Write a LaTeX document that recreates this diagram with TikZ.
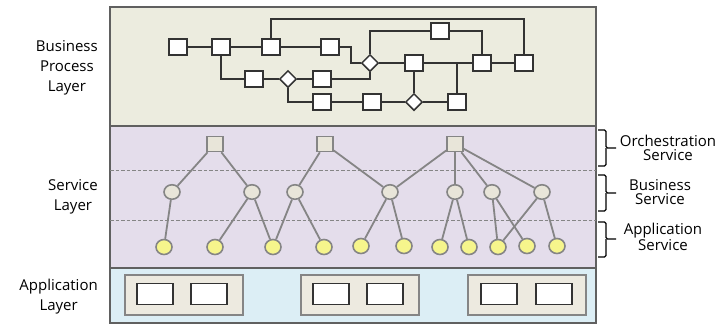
\documentclass[tikz,border=0pt]{standalone}
\usepackage{fontspec}
\setmainfont{Open Sans}
\usetikzlibrary{shapes.geometric,calc}
\definecolor{bpbg}{HTML}{ECECDF}
\definecolor{svbg}{HTML}{E4DDEB}
\definecolor{apbg}{HTML}{DCEEF5}
\definecolor{framec}{HTML}{606060}
\definecolor{bpline}{HTML}{333333}
\definecolor{svline}{HTML}{858585}
\definecolor{graynode}{HTML}{E8E5D9}
\definecolor{yellownode}{HTML}{F6F58C}
\definecolor{contfill}{HTML}{EDEAE0}
\begin{document}
\begin{tikzpicture}[x=1pt,y=-1pt,
  layer/.style={draw=framec,line width=1.3pt},
  bpbox/.style={draw=bpline,fill=white,line width=1.5pt,rectangle,minimum width=18pt,minimum height=16pt,inner sep=0pt},
  bpdia/.style={draw=bpline,fill=white,line width=1.5pt,diamond,minimum width=17pt,minimum height=17pt,inner sep=0pt},
  bpedge/.style={draw=bpline,line width=1.5pt},
  orch/.style={draw=svline,fill=graynode,line width=1.6pt,rectangle,minimum width=16pt,minimum height=15pt,inner sep=0pt},
  bsvc/.style={draw=svline,fill=graynode,line width=1.6pt,ellipse,minimum width=16pt,minimum height=14.5pt,inner sep=0pt},
  asvc/.style={draw=svline,fill=yellownode,line width=1.6pt,ellipse,minimum width=16pt,minimum height=15pt,inner sep=0pt},
  svedge/.style={draw=svline,line width=1.8pt},
  sep/.style={draw=svline,line width=1pt,dash pattern=on 3.5pt off 2pt},
  cont/.style={draw=svline,fill=contfill,line width=1.4pt,rectangle,inner sep=0pt},
  appbox/.style={draw=bpline,fill=white,line width=1.5pt,rectangle,minimum width=36pt,minimum height=21pt,inner sep=0pt},
  lbl/.style={font=\fontsize{15}{20}\selectfont,align=center,inner sep=0pt,text=black},
  rlbl/.style={font=\fontsize{15}{14}\selectfont,align=center,inner sep=0pt,text=black},
  brace/.style={draw=black,line width=1.3pt,rounded corners=1.5pt}
]
\useasboundingbox (0,0) rectangle (721,325);
\fill[white] (0,0) rectangle (721,325);
% layers
\draw[layer,fill=bpbg] (110,7) rectangle (596,126);
\draw[layer,fill=svbg] (110,126) rectangle (596,268);
\draw[layer,fill=apbg] (110,268) rectangle (596,323);
\coordinate (sl1) at (110,170); \coordinate (sr1) at (596,170);
\coordinate (sl2) at (110,220); \coordinate (sr2) at (596,220);
\draw[sep] (sl1) -- (sr1);
\draw[sep] (sl2) -- (sr2);

% left labels
\node[lbl,anchor=east] (lbp) at (98,68) {Business\\Process\\Layer};
\node[lbl,anchor=east] (lsv) at (98,197) {Service\\Layer};
\node[lbl,anchor=east] (lap) at (98,297) {Application\\Layer};

% business process nodes
\node[bpbox] (b1) at (178,47) {};
\node[bpbox] (b2) at (221,47) {};
\node[bpbox] (b3) at (271,47) {};
\node[bpbox] (b4) at (330,47) {};
\node[bpdia] (d1) at (370,63) {};
\node[bpbox] (t1) at (440,31) {};
\node[bpbox] (m1) at (414,63) {};
\node[bpbox] (m2) at (482,63) {};
\node[bpbox] (m3) at (524,63) {};
\node[bpbox] (r1) at (254,79) {};
\node[bpdia] (d2) at (288,79) {};
\node[bpbox] (r2) at (322,79) {};
\node[bpbox] (s1) at (322,102) {};
\node[bpbox] (s2) at (372,102) {};
\node[bpdia] (d3) at (414,102) {};
\node[bpbox] (s3) at (457,102) {};
\coordinate (topy) at (0,19);
% business process connectors
\draw[bpedge] (b1) -- (b2);
\draw[bpedge] (b2) -- (b3);
\draw[bpedge] (b3) -- (b4);
\draw[bpedge] (b3.north) |- (topy -| m3) -- (m3.north);
\draw[bpedge] (d1.north) |- (t1.west);
\draw[bpedge] (t1.east) -| (m2.north);
\draw[bpedge] (b4.east) -- ++(11,0) |- (d1.west);
\draw[bpedge] (d1.east) -- (m1.west);
\draw[bpedge] (m1.east) -- (m2.west);
\draw[bpedge] (m2.east) -- (m3.west);
\draw[bpedge] (m1 -| s3) -- (s3.north);
\draw[bpedge] (b2.south) |- (r1.west);
\draw[bpedge] (r1) -- (d2);
\draw[bpedge] (d2) -- (r2);
\draw[bpedge] (r2.east) -| (d1.south);
\draw[bpedge] (d2.south) |- (s1.west);
\draw[bpedge] (s1) -- (s2);
\draw[bpedge] (s2) -- (d3);
\draw[bpedge] (d3) -- (s3);
\draw[bpedge] (m1.south) -- (d3.north);

% service layer nodes
\node[orch] (o1) at (215,144) {};
\node[orch] (o2) at (325,144) {};
\node[orch] (o3) at (455,144) {};
\node[bsvc] (c1) at (172,192) {};
\node[bsvc] (c2) at (252,192) {};
\node[bsvc] (c3) at (295,192) {};
\node[bsvc] (c4) at (390,192) {};
\node[bsvc] (c5) at (455,192) {};
\node[bsvc] (c6) at (492,192) {};
\node[bsvc] (c7) at (542,192) {};
\node[asvc] (a1) at (164,247) {};
\node[asvc] (a2) at (215,247) {};
\node[asvc] (a3) at (273,247) {};
\node[asvc] (a4) at (324,247) {};
\node[asvc] (a5) at (361,246) {};
\node[asvc] (a6) at (404,246) {};
\node[asvc] (a7) at (440,247) {};
\node[asvc] (a8) at (469,247) {};
\node[asvc] (a9) at (498,247) {};
\node[asvc] (a10) at (527,246) {};
\node[asvc] (a11) at (557,246) {};
% service connectors
\foreach \u/\v in {o1/c1,o1/c2,o2/c3,o2/c4,o3/c4,o3/c5,o3/c6,o3/c7,
  c1/a1,c2/a2,c2/a3,c3/a3,c3/a4,c4/a5,c4/a6,c5/a7,c5/a8,c6/a9,c6/a10,c7/a9,c7/a11}
  \draw[svedge] (\u) -- (\v);

% application layer
\node[cont,minimum width=118pt,minimum height=40pt] (k1) at (184,295) {};
\node[cont,minimum width=118pt,minimum height=40pt] (k2) at (360,295) {};
\node[cont,minimum width=118pt,minimum height=40pt] (k3) at (527,295) {};
\node[appbox] (p1) at (155,294) {};
\node[appbox] (p2) at (209,294) {};
\node[appbox] (p3) at (331,294) {};
\node[appbox] (p4) at (385,294) {};
\node[appbox] (p5) at (499,294) {};
\node[appbox] (p6) at (554,294) {};

% right braces
\draw[brace] (598,130) -- (606,130) -- (606,148) -- (616,148);
\draw[brace] (598,166) -- (606,166) -- (606,148);
\draw[brace] (598,175) -- (606,175) -- (606,193) -- (616,193);
\draw[brace] (598,211) -- (606,211) -- (606,193);
\draw[brace] (598,222) -- (606,222) -- (606,239) -- (616,239);
\draw[brace] (598,257) -- (606,257) -- (606,239);
\node[rlbl] (lo) at (668,148) {Orchestration\\Service};
\node[rlbl] (lb) at (660,192) {Business\\Service};
\node[rlbl] (la) at (663,237) {Application\\Service};
\end{tikzpicture}
\end{document}
